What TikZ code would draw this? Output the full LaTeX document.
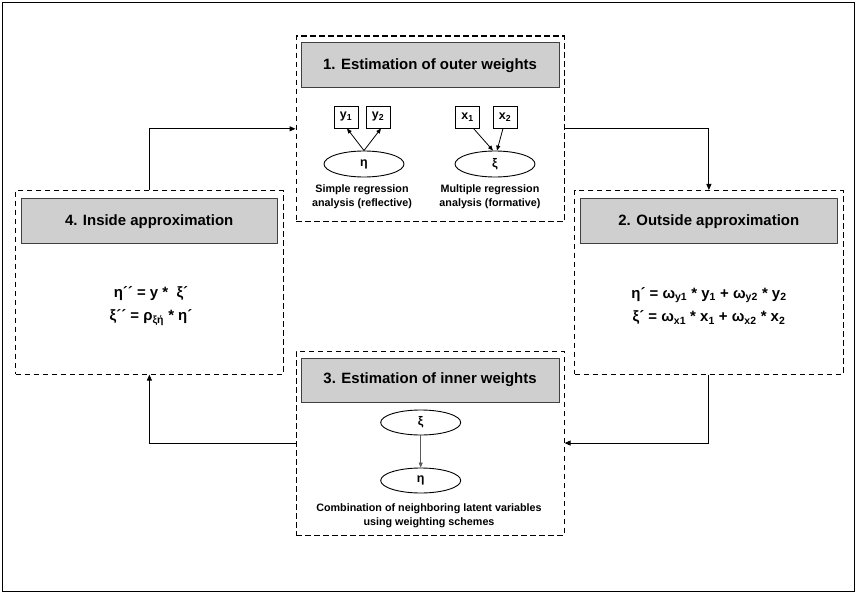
\documentclass[tikz,border=0pt]{standalone}
\usepackage{fontspec}
\setmainfont{Liberation Sans}
\usetikzlibrary{arrows.meta,shapes.geometric}
\newcommand\sbs[1]{\textsubscript{#1}}
\begin{document}
\begin{tikzpicture}[x=1bp,y=-1bp,
  stagebox/.style={draw, line width=1.1bp, dash pattern=on 5.5bp off 3.5bp, inner sep=0, anchor=north west},
  header/.style={draw=black!75, fill=black!19, line width=0.9bp, inner sep=0, anchor=north west,
    font=\fontsize{15}{18}\selectfont\bfseries},
  ind/.style={draw, line width=0.9bp, minimum width=24bp, minimum height=22bp, inner sep=0,
    font=\fontsize{12.5}{14}\selectfont\bfseries},
  lv/.style={draw, ellipse, line width=0.9bp, minimum width=80bp, minimum height=26bp, inner sep=0,
    font=\fontsize{12.5}{14}\selectfont\bfseries},
  caption/.style={align=center, inner sep=0, font=\fontsize{10.8}{14}\selectfont\bfseries},
  eq/.style={align=center, inner sep=0, font=\fontsize{15}{24}\selectfont\bfseries},
  flow/.style={-{Triangle[length=6bp,width=5bp]}, line width=1bp},
  small/.style={-{Triangle[length=5bp,width=4bp]}, line width=0.8bp},
]
\path[use as bounding box] (0,0) rectangle (856,594);
\draw[line width=1bp] (2.5,2.5) rectangle (854.5,591.5);

% the four stages
\node[stagebox, minimum width=268bp, minimum height=185.5bp] (b1) at (295.5,35.5) {};
\node[stagebox, minimum width=268.7bp, minimum height=183.5bp] (b2) at (574,190) {};
\node[stagebox, minimum width=268bp, minimum height=184bp] (b3) at (295.5,350.5) {};
\node[stagebox, minimum width=267.7bp, minimum height=183.5bp] (b4) at (15,190) {};

\node[header, minimum width=257.8bp, minimum height=44.5bp] (h1) at (300.7,42.5) {1. Estimation of outer weights};
\node[header, minimum width=256.7bp, minimum height=45bp] (h2) at (580,198.3) {2. Outside approximation};
\node[header, minimum width=257.8bp, minimum height=44bp] (h3) at (300.7,357.7) {3. Estimation of inner weights};
\node[header, minimum width=256bp, minimum height=45bp] (h4) at (20.7,198.3) {4. Inside approximation};

% stage 1: reflective and formative measurement
\node[ind] (y1) at (346,117) {y\sbs{1}};
\node[ind] (y2) at (378,117) {y\sbs{2}};
\node[lv] (eta1) at (364,164) {η};
\draw[small] (eta1.north) -- ([xshift=1bp]y1.south);
\draw[small] (eta1.north) -- ([xshift=3bp]y2.south);
\node[caption] (c1) at (362,197) {Simple regression\\analysis (reflective)};

\node[ind] (x1) at (467.5,117) {x\sbs{1}};
\node[ind] (x2) at (505,117) {x\sbs{2}};
\node[lv] (xi1) at (495,164) {ξ};
\draw[small] ([xshift=6bp]x1.south) -- ([xshift=-2bp]xi1.north);
\draw[small] ([xshift=-2bp]x2.south) -- ([xshift=2bp]xi1.north);
\node[caption] (c2) at (490,197) {Multiple regression\\analysis (formative)};

% stage 2
\node[eq] (e2) at (709,306) {η´ = ω\sbs{y1} * y\sbs{1} + ω\sbs{y2} * y\sbs{2}\\ξ´ = ω\sbs{x1} * x\sbs{1} + ω\sbs{x2} * x\sbs{2}};

% stage 3
\node[lv, minimum height=25bp] (xi3) at (420.7,422.5) {ξ};
\node[lv, minimum height=25bp] (eta3) at (420.7,480.5) {η};
\draw[small, draw=black!65, fill=black!65] (xi3.south) -- (eta3.north);
\node[caption] (c3) at (429,515.5) {Combination of neighboring latent variables\\using weighting schemes};

% stage 4
\node[eq] (e4) at (151,306) {η´´ = y *\ \ ξ´\\ξ´´ = ρ\sbs{ξή} * η´};

% cycle between the stages
\draw[flow] (b4.north) |- (b1.west);
\draw[flow] (b1.east) -| (b2.north);
\draw[flow] (b2.south) |- (b3.east);
\draw[flow] (b3.west) -| (b4.south);
\end{tikzpicture}
\end{document}
